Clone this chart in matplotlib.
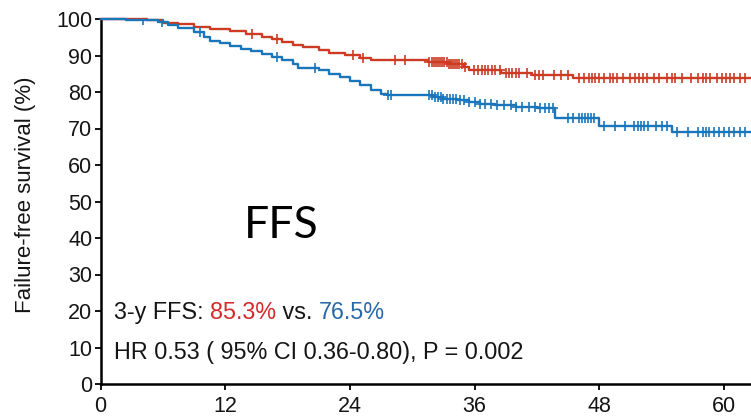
import numpy as np
import matplotlib
matplotlib.use('Agg')
import matplotlib.pyplot as plt

# Kaplan-Meier step data (months, % event-free)
red_t = [0, 4.5, 6.0, 7.5, 9.0, 10.5, 12.5, 14.0, 15.5, 16.5, 17.5, 18.5, 19.5,
         21.0, 22.0, 23.5, 25.0, 26.0, 31.5, 33.5, 35.0, 35.5, 38.5, 41.5, 45.5]
red_s = [100, 99.6, 99.0, 98.5, 97.8, 97.3, 96.6, 95.8, 95.0, 94.4, 93.7, 93.0, 92.3,
         91.5, 90.8, 90.1, 89.4, 88.9, 88.3, 87.6, 86.8, 86.0, 85.3, 84.7, 83.8]

blue_t = [0, 2.5, 5.5, 6.5, 7.5, 9.0, 10.0, 10.5, 11.5, 12.5, 13.5, 14.5, 15.5,
          16.5, 17.5, 18.5, 19.0, 21.0, 22.0, 23.0, 24.0, 25.0, 26.0, 27.0, 27.6,
          32.0, 33.0, 34.3, 35.5, 36.5, 38.0, 40.0, 42.0, 43.7, 48.0, 55.0]
blue_s = [100, 99.7, 99.3, 98.3, 97.6, 96.5, 95.2, 94.0, 93.3, 92.6, 91.9, 91.2, 90.4,
          89.6, 88.8, 87.6, 86.6, 86.0, 85.0, 84.0, 83.0, 82.0, 80.5, 79.5, 79.2,
          78.7, 78.2, 77.8, 77.2, 76.8, 76.4, 76.0, 75.6, 72.8, 70.7, 69.1]

red_cens = [14.6, 17.0, 24.3, 25.3, 28.3, 29.3, 31.6, 31.9, 32.1, 32.3, 32.5, 32.7,
            32.9, 33.1, 33.3, 33.5, 33.7, 33.9, 34.1, 34.3, 34.5, 34.8, 35.1, 35.9,
            36.3, 36.7, 37.0, 37.3, 37.7, 38.0, 38.4, 39.0, 39.3, 39.6, 40.0, 40.3,
            41.0, 41.8, 42.2, 42.6, 43.6, 44.3, 45.0, 46.0, 46.5, 47.0, 47.3, 47.6,
            48.0, 48.5, 49.0, 49.3, 49.7, 50.3, 51.0, 51.4, 51.8, 52.2, 52.6, 53.3,
            53.7, 54.5, 55.0, 55.3, 56.0, 56.8, 57.5, 58.0, 58.3, 58.7, 59.3, 59.8,
            60.2, 60.6, 61.0, 61.5, 62.0]
blue_cens = [4.1, 5.9, 9.6, 17.0, 20.6, 27.7, 28.0, 31.6, 31.9, 32.2, 32.5, 32.8,
             33.0, 33.3, 33.6, 33.9, 34.2, 34.6, 35.0, 35.5, 36.0, 36.5, 37.0, 37.6,
             38.2, 38.8, 39.5, 40.0, 40.6, 41.2, 41.8, 42.3, 42.8, 43.2, 43.5, 45.0,
             45.5, 46.0, 46.3, 46.6, 46.9, 47.2, 47.5, 48.5, 49.5, 50.5, 51.3, 51.7,
             52.0, 52.3, 52.7, 53.5, 54.0, 54.5, 55.5, 56.5, 57.5, 58.0, 58.3, 58.6,
             59.0, 59.5, 60.0, 60.5, 61.0, 61.5, 62.0]

x_end = 62.6
xticks = [0, 12, 24, 36, 48, 60]
yticks = list(range(0, 101, 10))

red_c = "#cc3b22"
blue_c = "#1a76bb"
red_txt = "#d42a2a"
blue_txt = "#2a68a8"
ink = "#151515"

plt.rcParams['font.family'] = ['Liberation Sans', 'DejaVu Sans']

fig = plt.figure(figsize=(7.51, 4.18), dpi=100)
ax = fig.add_axes([100.5 / 751, 34 / 418, 650.5 / 751, 365 / 418])


def step_at(times, surv, x):
    idx = np.searchsorted(times, x, side='right') - 1
    return np.asarray(surv)[idx]


for t, s, cens, col in [(red_t, red_s, red_cens, red_c),
                        (blue_t, blue_s, blue_cens, blue_c)]:
    ax.step(t + [x_end], s + [s[-1]], where='post', color=col, lw=1.7,
            clip_on=False, zorder=3)
    ax.plot(cens, step_at(t, s, cens), ls='none', marker='+', ms=7, mew=1.2,
            color=col, zorder=3)

ax.set_xlim(0, x_end)
ax.set_ylim(0, 100)
ax.set_xticks(xticks)
ax.set_yticks(yticks)
ax.tick_params(labelsize=15.5, width=1.3, length=4, direction='out',
               labelcolor=ink)
ax.tick_params(axis='x', pad=5)
ax.tick_params(axis='y', pad=2)
for side in ['top', 'right']:
    ax.spines[side].set_visible(False)
for side in ['left', 'bottom']:
    ax.spines[side].set_linewidth(1.8)

fig.text(26 / 751, 1 - 195 / 418, "Failure-free survival (%)", rotation=90,
         ha='center', va='center', fontsize=16, color=ink)

ax.text(17.4, 43.3, "FFS", fontsize=32, family=['Lato', 'DejaVu Sans'],
        ha='center', va='center', color='black')

# coloured summary line, pieces placed one after the other
fig.canvas.draw()
renderer = fig.canvas.get_renderer()
x0 = 1.3
pieces = [("3-y FFS: ", ink), ("85.3%", red_txt), (" vs. ", ink),
          ("76.5%", blue_txt)]
for txt, col in pieces:
    t = ax.text(x0, 17.8, txt, fontsize=16.8, color=col, ha='left', va='baseline')
    bb = t.get_window_extent(renderer)
    x0 = ax.transData.inverted().transform((bb.x1, bb.y0))[0]

ax.text(1.3, 6.75, "HR 0.53 ( 95% CI 0.36-0.80), P = 0.002", fontsize=16.8,
        color=ink, ha='left', va='baseline')

fig.savefig("out.png", dpi=100)
